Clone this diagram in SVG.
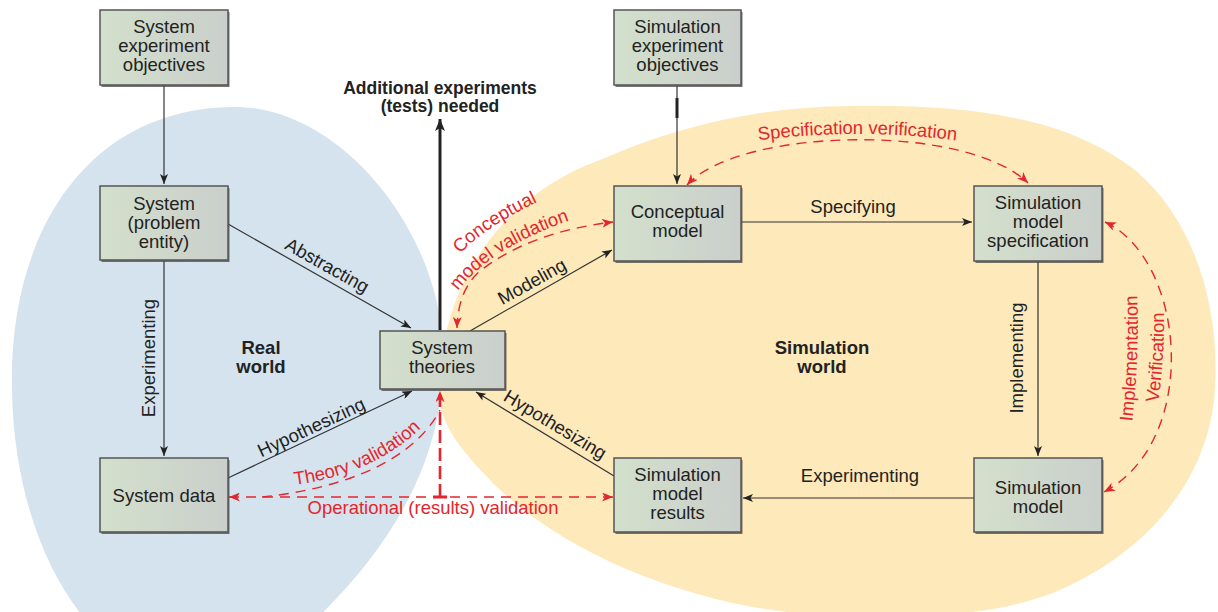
<svg xmlns="http://www.w3.org/2000/svg" width="1218" height="612" viewBox="0 0 1218 612">
<style>
  text { font-family: "Liberation Sans", Arial, sans-serif; }
  .bx { fill: url(#boxfill); stroke: #555; stroke-width: 1.5; }
  .sh { fill: #4a4a4a; opacity: 0.75; }
  .bt { font-size: 18.5px; fill: #222; text-anchor: middle; }
  .lbl { font-size: 18.5px; fill: #222; }
  .reg { font-size: 18.5px; font-weight: bold; fill: #222; text-anchor: middle; }
  .red { font-size: 18.5px; fill: #e3262d; }
  .ln { fill: none; stroke: #333; stroke-width: 1.2; }
  .rd { fill: none; stroke: #e3262d; stroke-width: 1.4; stroke-dasharray: 10 7; }
</style>
<defs>
  <linearGradient id="boxfill" x1="0" y1="0" x2="1" y2="0">
    <stop offset="0" stop-color="#d3e0cc"/>
    <stop offset="1" stop-color="#cacfcb"/>
  </linearGradient>
  <marker id="ab" markerUnits="userSpaceOnUse" markerWidth="11" markerHeight="8" refX="10" refY="4" orient="auto-start-reverse">
    <path d="M0,0 L10,4 L0,8 L2.5,4 Z" fill="#222"/>
  </marker>
  <marker id="abig" markerUnits="userSpaceOnUse" markerWidth="13" markerHeight="10" refX="12" refY="5" orient="auto">
    <path d="M0,0 L12,5 L0,10 L3,5 Z" fill="#222"/>
  </marker>
  <marker id="ar" markerUnits="userSpaceOnUse" markerWidth="12" markerHeight="9" refX="11" refY="4.5" orient="auto-start-reverse">
    <path d="M0,0 L11,4.5 L0,9 L3,4.5 Z" fill="#e3262d"/>
  </marker>
  <path id="tpSpec" d="M 740,143 Q 857,125 975,143"/>
  <path id="tpConc1" d="M 458,256 Q 488,223 553,195"/>
  <path id="tpConc2" d="M 455,295 Q 490,244 590,214"/>
  <path id="tpImpl1" d="M 1131,432 Q 1140,360 1137,285"/>
  <path id="tpImpl2" d="M 1157,410 Q 1165,360 1164,305"/>
  <path id="tpTheory" d="M 285,486 Q 375,477 428,421"/>
</defs>

<rect width="1218" height="612" fill="#ffffff"/>

<g id="regions">
  <path d="M 235,107 C 340,107 440,230 443,350 C 446,450 400,540 310,625 L 90,625 C 50,580 14,500 12,390 C 8,230 90,107 235,107 Z" fill="#d5e3ee"/>
  <path d="M 440,400 C 436,300 490,200 600,160 C 680,125 760,107 850,106 C 980,104 1070,120 1135,170 C 1200,225 1222,320 1214,400 C 1205,480 1150,550 1060,590 C 980,625 820,625 720,600 C 640,580 560,545 500,490 C 470,460 442,430 440,400 Z" fill="#fde9ba"/>
  <text class="reg" x="261" y="354">Real</text>
  <text class="reg" x="261" y="373">world</text>
  <text class="reg" x="822" y="354">Simulation</text>
  <text class="reg" x="822" y="373">world</text>
</g>

<g id="connectors">
  <path class="ln" d="M164,85 V184" marker-end="url(#ab)"/>
  <path class="ln" d="M677,85 V184" marker-end="url(#ab)"/>
  <path d="M677,98 V118" stroke="#222" stroke-width="3"/>
  <path class="ln" d="M164,261 V456" marker-end="url(#ab)"/>
  <path class="ln" d="M228,224 L411,328" marker-end="url(#ab)"/>
  <path class="ln" d="M470,331 L612,250" marker-end="url(#ab)"/>
  <path class="ln" d="M741,222 H972" marker-end="url(#ab)"/>
  <path class="ln" d="M1038,261 V456" marker-end="url(#ab)"/>
  <path class="ln" d="M974,498 H743" marker-end="url(#ab)"/>
  <path class="ln" d="M228,478 L412,391" marker-end="url(#ab)"/>
  <path class="ln" d="M614,476 L476,392" marker-end="url(#ab)"/>
  <path d="M440,330 V119" stroke="#222" stroke-width="3" fill="none" marker-end="url(#abig)"/>

  <path class="rd" d="M687,185 C 738,128 965,122 1028,183" marker-start="url(#ar)" marker-end="url(#ar)"/>
  <path class="rd" d="M457,328 Q 458,290 480,271 Q 530,232 613,222" marker-start="url(#ar)" marker-end="url(#ar)"/>
  <path class="rd" d="M1105,222 C 1186,260 1201,440 1104,492" marker-start="url(#ar)" marker-end="url(#ar)"/>
  <path class="rd" d="M229,497 H613" marker-start="url(#ar)" marker-end="url(#ar)"/>
  <path class="rd" d="M262,497 C 330,490 410,467 440,410"/>
  <path d="M440,497 V391" fill="none" stroke="#e3262d" stroke-width="2.6" stroke-dasharray="13 5" marker-end="url(#ar)"/>
  <path d="M433,497 H447" stroke="#e3262d" stroke-width="3"/>

  <text class="lbl" transform="translate(324,271) rotate(29.3)" text-anchor="middle">Abstracting</text>
  <text class="lbl" transform="translate(535,287) rotate(-29.2)" text-anchor="middle">Modeling</text>
  <text class="lbl" x="853" y="213" text-anchor="middle">Specifying</text>
  <text class="lbl" transform="translate(155,358) rotate(-90)" text-anchor="middle">Experimenting</text>
  <text class="lbl" transform="translate(1023,358) rotate(-90)" text-anchor="middle">Implementing</text>
  <text class="lbl" x="860" y="482" text-anchor="middle">Experimenting</text>
  <text class="lbl" transform="translate(314,433) rotate(-25)" text-anchor="middle">Hypothesizing</text>
  <text class="lbl" transform="translate(552,430) rotate(31.3)" text-anchor="middle">Hypothesizing</text>
  <text x="440" y="94" text-anchor="middle" font-size="17.5" font-weight="bold" fill="#222">Additional experiments</text>
  <text x="440" y="112" text-anchor="middle" font-size="17.5" font-weight="bold" fill="#222">(tests) needed</text>

  <text class="red"><textPath href="#tpSpec" startOffset="50%" text-anchor="middle">Specification verification</textPath></text>
  <text class="red"><textPath href="#tpConc1" startOffset="3">Conceptual</textPath></text>
  <text class="red"><textPath href="#tpConc2" startOffset="5">model validation</textPath></text>
  <text class="red" font-size="18"><textPath href="#tpImpl1" startOffset="50%" text-anchor="middle">Implementation</textPath></text>
  <text class="red" font-size="18"><textPath href="#tpImpl2" startOffset="50%" text-anchor="middle">Verification</textPath></text>
  <text class="red"><textPath href="#tpTheory" startOffset="50%" text-anchor="middle">Theory validation</textPath></text>
  <text class="red" x="433" y="514" text-anchor="middle">Operational (results) validation</text>
</g>

<g id="node-system-experiment-objectives">
  <rect class="sh" x="101.5" y="12" width="128" height="75"/>
  <rect class="bx" x="100" y="10" width="128" height="75"/>
  <text class="bt" x="164" y="33">System</text>
  <text class="bt" x="164" y="52">experiment</text>
  <text class="bt" x="164" y="71">objectives</text>
</g>
<g id="node-system">
  <rect class="sh" x="101.5" y="188" width="128" height="74"/>
  <rect class="bx" x="100" y="186" width="128" height="74"/>
  <text class="bt" x="164" y="210">System</text>
  <text class="bt" x="164" y="229">(problem</text>
  <text class="bt" x="164" y="248">entity)</text>
</g>
<g id="node-system-data">
  <rect class="sh" x="101.5" y="460" width="128" height="74"/>
  <rect class="bx" x="100" y="458" width="128" height="74"/>
  <text class="bt" x="164" y="502">System data</text>
</g>
<g id="node-system-theories">
  <rect class="sh" x="381.5" y="333" width="125" height="58"/>
  <rect class="bx" x="380" y="331" width="125" height="58"/>
  <text class="bt" x="442" y="354">System</text>
  <text class="bt" x="442" y="373">theories</text>
</g>
<g id="node-simulation-experiment-objectives">
  <rect class="sh" x="615.5" y="12" width="127" height="75"/>
  <rect class="bx" x="614" y="10" width="127" height="75"/>
  <text class="bt" x="677.5" y="33">Simulation</text>
  <text class="bt" x="677.5" y="52">experiment</text>
  <text class="bt" x="677.5" y="71">objectives</text>
</g>
<g id="node-conceptual-model">
  <rect class="sh" x="615.5" y="188" width="127" height="75"/>
  <rect class="bx" x="614" y="186" width="127" height="75"/>
  <text class="bt" x="677.5" y="218">Conceptual</text>
  <text class="bt" x="677.5" y="237">model</text>
</g>
<g id="node-simulation-model-specification">
  <rect class="sh" x="975.5" y="188" width="128" height="75"/>
  <rect class="bx" x="974" y="186" width="128" height="75"/>
  <text class="bt" x="1038" y="209">Simulation</text>
  <text class="bt" x="1038" y="228">model</text>
  <text class="bt" x="1038" y="247">specification</text>
</g>
<g id="node-simulation-model-results">
  <rect class="sh" x="615.5" y="460" width="127" height="74"/>
  <rect class="bx" x="614" y="458" width="127" height="74"/>
  <text class="bt" x="677.5" y="481">Simulation</text>
  <text class="bt" x="677.5" y="500">model</text>
  <text class="bt" x="677.5" y="519">results</text>
</g>
<g id="node-simulation-model">
  <rect class="sh" x="975.5" y="460" width="128" height="74"/>
  <rect class="bx" x="974" y="458" width="128" height="74"/>
  <text class="bt" x="1038" y="494">Simulation</text>
  <text class="bt" x="1038" y="513">model</text>
</g>
</svg>
